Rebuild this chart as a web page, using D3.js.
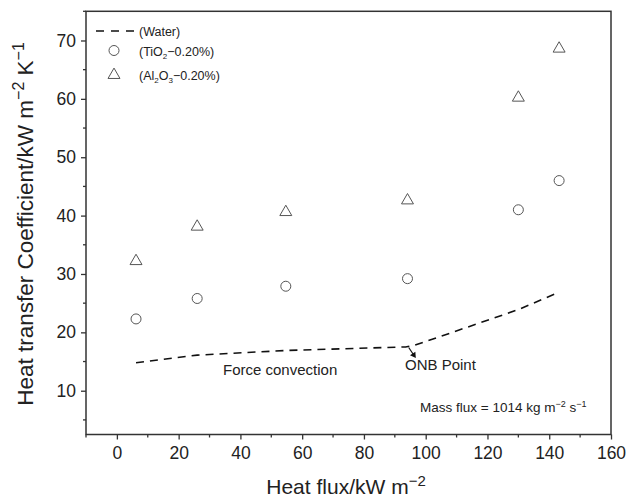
<!DOCTYPE html>
<html><head><meta charset="utf-8">
<script src="https://cdn.jsdelivr.net/npm/d3@7"></script>
<style>body{margin:0;background:#fff;} svg{display:block;font-family:"Liberation Sans",Arial,sans-serif;}</style>
</head><body><svg id="c" width="640" height="501"></svg>
<script>
const heatFluxTiO2 = [6.2, 26.0, 54.7, 94.1, 130.0, 143.2];
const htcTiO2 = [22.3, 25.8, 27.9, 29.2, 41.0, 46.0];
const heatFluxAl2O3 = [6.2, 26.0, 54.7, 94.1, 130.0, 143.2];
const htcAl2O3 = [32.2, 38.1, 40.6, 42.6, 60.2, 68.6];
const waterFlux = [6.2, 26.0, 55.0, 93.5, 96.5, 113.0, 130.0, 143.3];
const waterHtc = [14.8, 16.1, 16.9, 17.5, 17.8, 20.8, 23.9, 26.9];
const xTicks = [0, 20, 40, 60, 80, 100, 120, 140, 160];
const yTicks = [10, 20, 30, 40, 50, 60, 70];

const svg = d3.select("#c");
const x = d3.scaleLinear().domain([-10, 160]).range([86, 611]);
const y = d3.scaleLinear().domain([2.5, 75]).range([434.5, 11.3]);
const axisCol = "#333";

svg.append("rect").attr("x", 86).attr("y", 11.3).attr("width", 525).attr("height", 423.2)
  .attr("fill", "none").attr("stroke", axisCol).attr("stroke-width", 1.5);

const xMinor = d3.range(-10, 161, 10).filter(v => !xTicks.includes(v));
const gx = svg.append("g").attr("transform", "translate(0,434.5)");
gx.call(d3.axisBottom(x).tickValues(xTicks).tickSize(5).tickPadding(7).tickFormat(d3.format("d")));
gx.append("g").selectAll("line").data(xMinor).join("line")
  .attr("x1", d => x(d)).attr("x2", d => x(d)).attr("y1", 0).attr("y2", 3).attr("stroke", axisCol).attr("stroke-width", 1.3);
gx.select(".domain").remove();
gx.selectAll(".tick line").attr("stroke", axisCol).attr("stroke-width", 1.3);
gx.selectAll(".tick text").attr("font-size", 17.5).attr("fill", "#222").attr("font-family", "Liberation Sans, Arial, sans-serif");

const yMinor = d3.range(5, 76, 10);
const gy = svg.append("g").attr("transform", "translate(86,0)");
gy.call(d3.axisLeft(y).tickValues(yTicks).tickSize(5).tickPadding(5).tickFormat(d3.format("d")));
gy.append("g").selectAll("line").data(yMinor).join("line")
  .attr("y1", d => y(d)).attr("y2", d => y(d)).attr("x1", 0).attr("x2", -3).attr("stroke", axisCol).attr("stroke-width", 1.3);
gy.select(".domain").remove();
gy.selectAll(".tick line").attr("stroke", axisCol).attr("stroke-width", 1.3);
gy.selectAll(".tick text").attr("font-size", 17.5).attr("fill", "#222").attr("font-family", "Liberation Sans, Arial, sans-serif");

const xt = svg.append("text").attr("x", 346).attr("y", 494).attr("text-anchor", "middle")
  .attr("font-size", 21).attr("fill", "#222");
xt.append("tspan").text("Heat flux/kW m");
xt.append("tspan").text("\u22122").attr("font-size", 15).attr("dy", -8);

const yt = svg.append("text").attr("transform", "translate(33,224) rotate(-90)").attr("text-anchor", "middle")
  .attr("font-size", 22.5).attr("fill", "#222");
yt.append("tspan").text("Heat transfer Coefficient/kW m");
yt.append("tspan").text("\u22122").attr("font-size", 16).attr("dy", -9);
yt.append("tspan").text(" K").attr("font-size", 22.5).attr("dy", 9);
yt.append("tspan").text("\u22121").attr("font-size", 16).attr("dy", -9);

const line = d3.line().x((d, i) => x(waterFlux[i])).y(d => y(d));
svg.append("path").attr("d", line(waterHtc)).attr("fill", "none").attr("stroke", "#111")
  .attr("stroke-width", 1.6).attr("stroke-dasharray", "8,6");

const mcol = "#555";
svg.append("g").selectAll("circle").data(htcTiO2).join("circle")
  .attr("cx", (d, i) => x(heatFluxTiO2[i])).attr("cy", d => y(d)).attr("r", 5)
  .attr("fill", "none").attr("stroke", mcol).attr("stroke-width", 1);
const tri = d3.symbol().type(d3.symbolTriangle).size(62);
svg.append("g").selectAll("path").data(htcAl2O3).join("path")
  .attr("d", tri).attr("transform", (d, i) => `translate(${x(heatFluxAl2O3[i])},${y(d)})`)
  .attr("fill", "none").attr("stroke", mcol).attr("stroke-width", 1);

const lg = svg.append("g");
lg.append("line").attr("x1", 96).attr("x2", 134).attr("y1", 31).attr("y2", 31)
  .attr("stroke", "#111").attr("stroke-width", 1.6).attr("stroke-dasharray", "8,7");
lg.append("text").attr("x", 139).attr("y", 36).attr("font-size", 12.5).attr("fill", "#222").text("(Water)");
lg.append("circle").attr("cx", 114).attr("cy", 50.5).attr("r", 5).attr("fill", "none").attr("stroke", mcol);
const t2 = lg.append("text").attr("x", 139).attr("y", 56).attr("font-size", 12.5).attr("fill", "#222");
t2.append("tspan").text("(TiO");
t2.append("tspan").text("2").attr("font-size", 8).attr("dy", 3);
t2.append("tspan").text("\u22120.20%)").attr("dy", -3);
lg.append("path").attr("d", tri).attr("transform", "translate(114,75)").attr("fill", "none").attr("stroke", mcol);
const t3 = lg.append("text").attr("x", 139).attr("y", 80).attr("font-size", 12.5).attr("fill", "#222");
t3.append("tspan").text("(Al");
t3.append("tspan").text("2").attr("font-size", 8).attr("dy", 3);
t3.append("tspan").text("O").attr("dy", -3);
t3.append("tspan").text("3").attr("font-size", 8).attr("dy", 3);
t3.append("tspan").text("\u22120.20%)").attr("dy", -3);

svg.append("text").attr("x", 223).attr("y", 375).attr("font-size", 15).attr("fill", "#222").text("Force convection");
svg.append("text").attr("x", 405).attr("y", 370).attr("font-size", 15).attr("fill", "#222").text("ONB Point");
svg.append("line").attr("x1", x(94.5)).attr("y1", y(17.4)).attr("x2", x(94.5) + 6).attr("y2", y(17.4) + 9)
  .attr("stroke", "#111").attr("stroke-width", 1.2);
svg.append("path").attr("d", d3.symbol().type(d3.symbolTriangle).size(18))
  .attr("transform", `translate(${x(94.5) + 5},${y(17.4) + 7.5}) rotate(146)`).attr("fill", "#111");
const mf = svg.append("text").attr("x", 420).attr("y", 412).attr("font-size", 13.5).attr("fill", "#222");
mf.append("tspan").text("Mass flux = 1014 kg m");
mf.append("tspan").text("\u22122").attr("font-size", 9).attr("dy", -5);
mf.append("tspan").text(" s").attr("font-size", 13.5).attr("dy", 5);
mf.append("tspan").text("\u22121").attr("font-size", 9).attr("dy", -5);
</script></body></html>
